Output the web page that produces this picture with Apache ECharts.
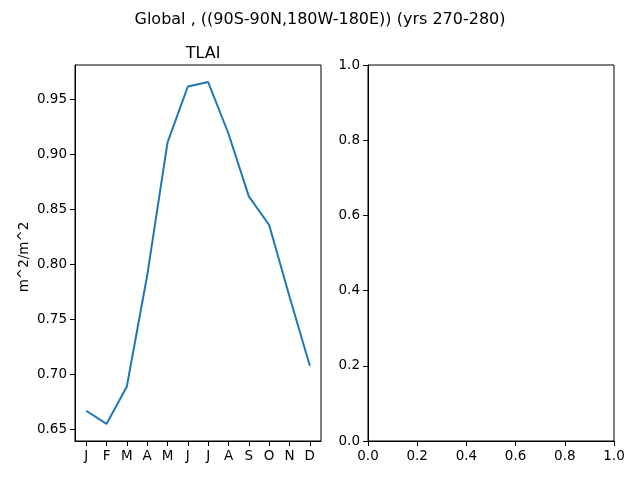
<!DOCTYPE html>
<html><head><meta charset="utf-8">
<script src="https://cdn.jsdelivr.net/npm/echarts@6/dist/echarts.min.js"></script>
<style>html,body{margin:0;padding:0;background:#fff}#c{width:640px;height:480px}</style>
</head><body><div id="c"></div>
<script>
const months = ['J','F','M','A','M','J','J','A','S','O','N','D'];
const tlai = [0.667, 0.655, 0.689, 0.790, 0.911, 0.962, 0.966, 0.919, 0.862, 0.836, 0.771, 0.708];
const leftYTicks = [0.65, 0.70, 0.75, 0.80, 0.85, 0.90, 0.95];
const rightTicks = [0.0, 0.2, 0.4, 0.6, 0.8, 1.0];
const suptitle = 'Global , ((90S-90N,180W-180E)) (yrs 270-280)';
const panelTitle = 'TLAI';
const yUnits = 'm^2/m^2';

const chart = echarts.init(document.getElementById('c'), null, {renderer:'canvas'});
const font = 'DejaVu Sans';
const monthIdx = months.map((m,i)=>i);
const ymin = Math.min(...tlai), ymax = Math.max(...tlai), yr = ymax - ymin;
const axisBase = {
  axisLine:{show:true, onZero:false, lineStyle:{color:'#000', width:1}},
  axisTick:{show:true, inside:false, length:5, lineStyle:{color:'#000', width:1}},
  splitLine:{show:false},
  axisLabel:{color:'#000', fontFamily:font, fontSize:13.5}
};
chart.setOption({
  animation:false,
  title:[
    {text:suptitle, left:'center', top:7, textStyle:{fontFamily:font, fontSize:16, fontWeight:'normal', color:'#000'}},
    {text:panelTitle, left:198, textAlign:'center', top:41, textStyle:{fontFamily:font, fontSize:16, fontWeight:'normal', color:'#000'}}
  ],
  grid:[
    {left:75, top:65, width:246, height:376, show:true, borderColor:'#000', borderWidth:1, backgroundColor:'transparent'},
    {left:368, top:65, width:246, height:376, show:true, borderColor:'#000', borderWidth:1, backgroundColor:'transparent'}
  ],
  xAxis:[
    Object.assign({}, axisBase, {type:'value', gridIndex:0, min:-0.55, max:11.55,
      axisTick:Object.assign({}, axisBase.axisTick, {customValues:monthIdx}),
      axisLabel:Object.assign({}, axisBase.axisLabel, {customValues:monthIdx, margin:8, formatter:v=>months[Math.round(v)]})}),
    Object.assign({}, axisBase, {type:'value', gridIndex:1, min:0, max:1, interval:0.2,
      axisLabel:Object.assign({}, axisBase.axisLabel, {margin:8, formatter:v=>v.toFixed(1)})})
  ],
  yAxis:[
    Object.assign({}, axisBase, {type:'value', gridIndex:0, min:ymin-0.05*yr, max:ymax+0.05*yr,
      name:yUnits, nameLocation:'middle', nameGap:44, nameRotate:90,
      nameTextStyle:{fontFamily:font, fontSize:13.5, color:'#000', padding:[0,8,0,0]},
      axisTick:Object.assign({}, axisBase.axisTick, {customValues:leftYTicks}),
      axisLabel:Object.assign({}, axisBase.axisLabel, {customValues:leftYTicks, margin:8, formatter:v=>v.toFixed(2)})}),
    Object.assign({}, axisBase, {type:'value', gridIndex:1, min:0, max:1, interval:0.2,
      axisLabel:Object.assign({}, axisBase.axisLabel, {margin:8, formatter:v=>v.toFixed(1)})})
  ],
  series:[
    {type:'line', xAxisIndex:0, yAxisIndex:0, data:tlai.map((v,i)=>[i,v]), showSymbol:false, symbol:'none',
     lineStyle:{color:'#1f77b4', width:2}, itemStyle:{color:'#1f77b4'}}
  ]
});
</script></body></html>
